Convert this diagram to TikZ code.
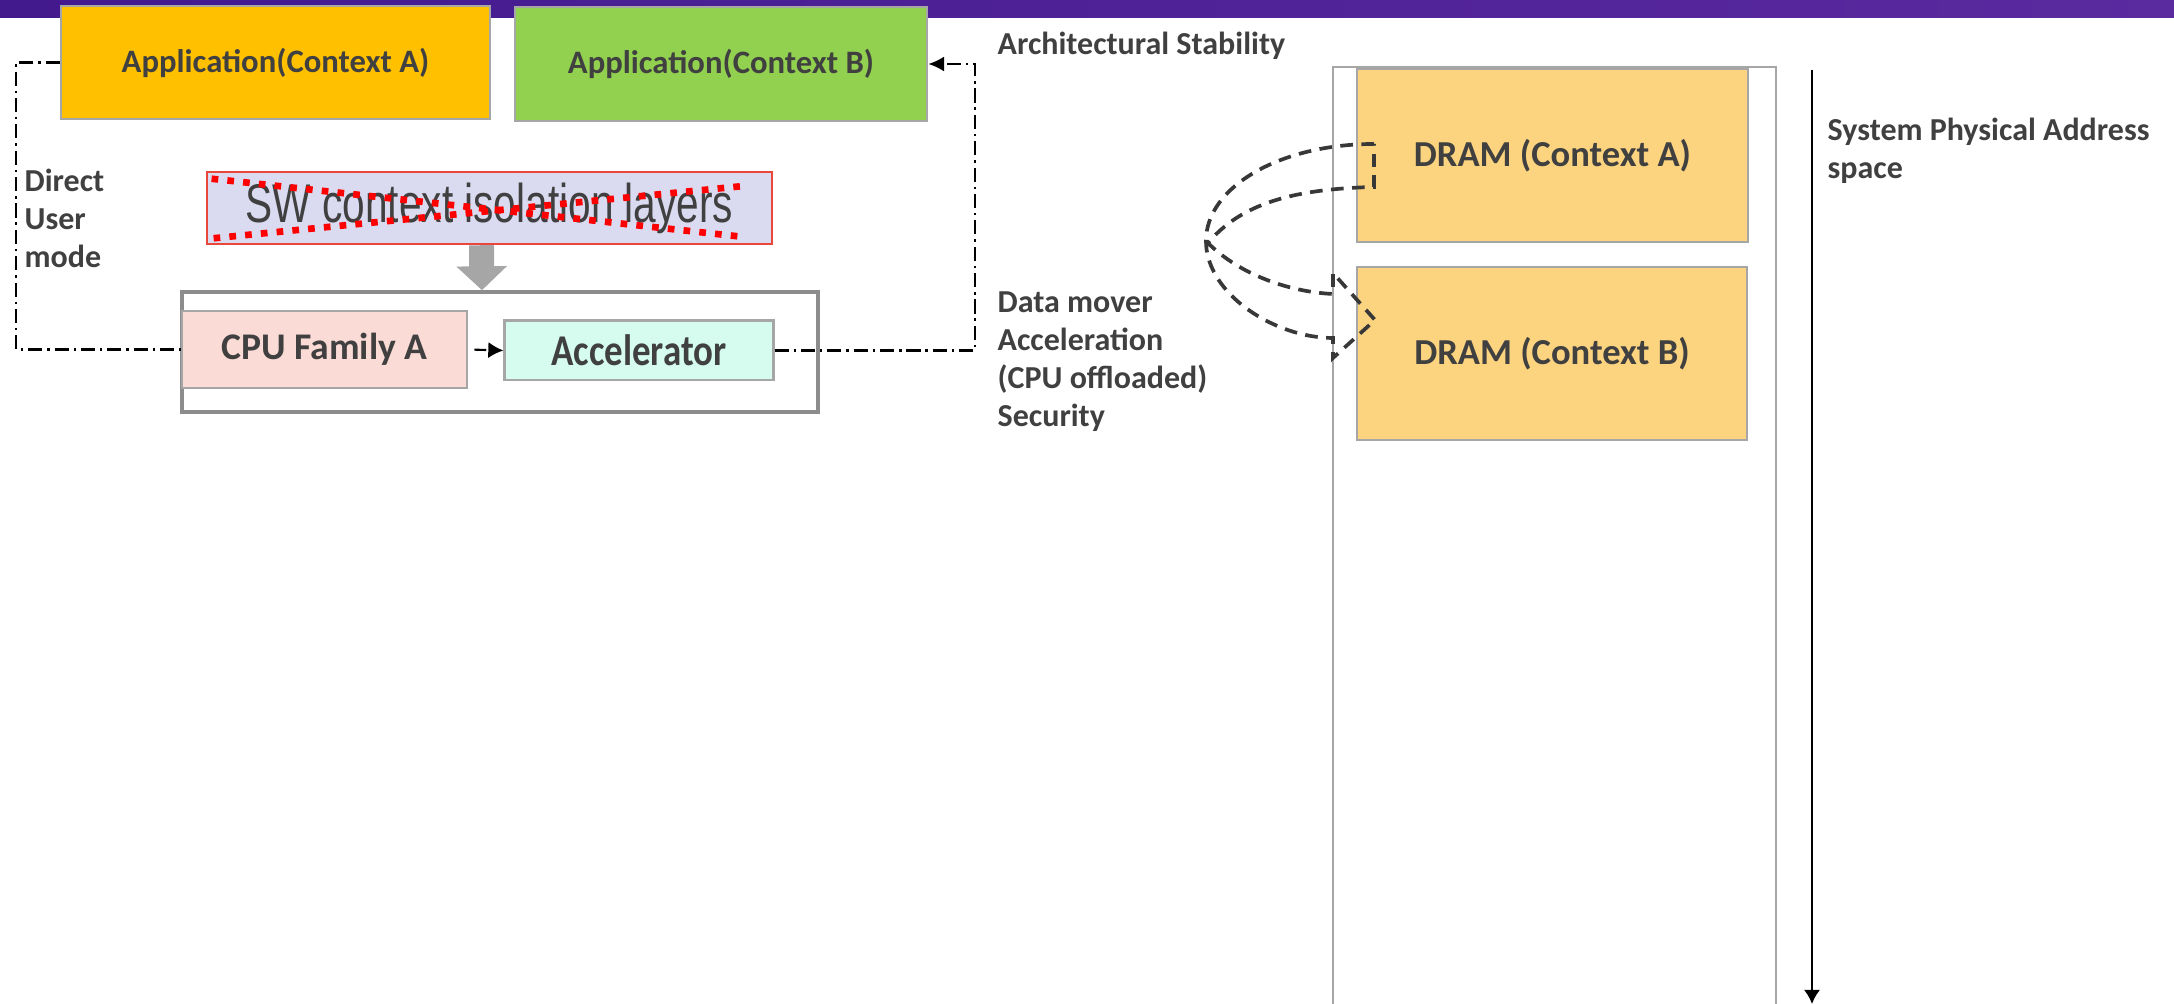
\documentclass[tikz,border=0pt]{standalone}
\usepackage{fontspec}
\usepackage{graphicx}
\setmainfont{Carlito}
\newfontfamily\swfont{Liberation Sans}
\usetikzlibrary{arrows.meta,calc}

\definecolor{txt}{HTML}{404040}
\definecolor{boxgray}{HTML}{A6A6A6}
\definecolor{hwgray}{HTML}{8C8C8C}
\definecolor{appAfill}{HTML}{FFC000}
\definecolor{appBfill}{HTML}{92D050}
\definecolor{swfill}{HTML}{DADAF0}
\definecolor{swline}{HTML}{E8473A}
\definecolor{cpufill}{HTML}{FADBD5}
\definecolor{accfill}{HTML}{D5FCEF}
\definecolor{dramfill}{HTML}{FCD47F}
\definecolor{bandL}{HTML}{43198E}
\definecolor{bandM}{HTML}{7A3FCA}
\definecolor{bandR}{HTML}{5A2A9F}
\definecolor{loopgray}{HTML}{383838}

\begin{document}
\begin{tikzpicture}[x=0.01cm,y=-0.01cm,
  box/.style={draw=boxgray, line width=0.7pt, inner sep=0pt, text=txt},
  lbl/.style={inner sep=0pt, anchor=west, align=left, text=txt,
    font=\bfseries\fontsize{9.1}{10.8}\selectfont},
  dashdot/.style={line width=0.6pt, dash pattern=on 4pt off 1.4pt on 0.7pt off 1.4pt},
  reddots/.style={draw=red, line width=1.9pt, dash pattern=on 1.9pt off 2.6pt},
  loopline/.style={draw=loopgray, line width=1.05pt, dash pattern=on 3.6pt off 2.4pt, line join=miter},
]
\useasboundingbox (0,0) rectangle (2174,1004);
\fill[white] (0,0) rectangle (2174,1004);

% title band
\shade[left color=bandL, middle color=bandM, right color=bandR] (0,0) rectangle (2174,18);

% applications
\node[box, fill=appAfill, minimum width=4.29cm, minimum height=1.13cm,
  font=\bfseries\fontsize{9.3}{11}\selectfont] (appA) at (275.5,62.5) {Application(Context A)};
\node[box, fill=appBfill, minimum width=4.12cm, minimum height=1.14cm,
  font=\bfseries\fontsize{9.3}{11}\selectfont] (appB) at (721,64) {Application(Context B)};

% software isolation layer (crossed out)
\node[draw=swline, line width=0.7pt, fill=swfill, inner sep=0pt,
  minimum width=5.65cm, minimum height=0.72cm, text=txt,
  font=\swfont\fontsize{15.5}{17}\selectfont] (sw) at (489.5,208)
  {\scalebox{0.745}[1]{SW context isolation layers}};
\draw[reddots] ($(sw.north west)+(6,8)$) -- ($(sw.south east)+(-27,-8)$);
\draw[reddots] ($(sw.south west)+(8,-7)$) -- ($(sw.north east)+(-27,15)$);

% hardware block
\node[draw=hwgray, line width=1pt, minimum width=6.36cm, minimum height=1.2cm] (hw) at (500,352) {};
\node[box, fill=cpufill, minimum width=2.85cm, minimum height=0.77cm,
  font=\bfseries\fontsize{10.7}{12}\selectfont] (cpu) at (324.5,349.5) {CPU Family A};
\node[box, fill=accfill, line width=0.85pt, minimum width=2.68cm, minimum height=0.59cm,
  font=\bfseries\fontsize{12.5}{14}\selectfont] (acc) at (639,350.5) {\scalebox{0.84}[1]{Accelerator}};

\draw[draw=boxgray, line width=7.1pt, -{Triangle[length=6.8pt,width=14pt]}]
  ($(sw.south)+(-8,0)$) -- ($(hw.north)+(-18,0)$);

\draw[line width=0.6pt, dash pattern=on 0pt off 1.7pt on 3.4pt off 10pt,
  -{Latex[length=4.3pt,width=4.6pt]}] (cpu.east) -- (acc.west);

% user-mode paths
\coordinate (ltop) at (16,62.5);
\draw[dashdot] (appA.west) -- (ltop) |- (cpu.west);
\coordinate (rtop) at (975,64);
\draw[dashdot, -{Latex[length=4.5pt,width=4.3pt]}] (acc.east) -| (rtop) -- (appB.east);

% labels
\node[lbl] (arch) at (997,46) {Architectural Stability};
\node[lbl] (direct) at (24,218) {Direct\\User\\mode};
\node[lbl] (mover) at (997,362) {Data mover\\Acceleration\\(CPU offloaded)\\Security};
\node[lbl] (spa) at (1827,151) {System Physical Address\\space};

% physical address space
\draw[boxgray, line width=0.6pt] (1333,1010) -- (1333,67) -- (1776,67) -- (1776,1010);
\node[box, fill=dramfill, minimum width=3.91cm, minimum height=1.73cm,
  font=\bfseries\fontsize{10.4}{12}\selectfont] (dramA) at (1552.5,155.5) {DRAM (Context A)};
\node[box, fill=dramfill, minimum width=3.90cm, minimum height=1.73cm,
  font=\bfseries\fontsize{10.4}{12}\selectfont] (dramB) at (1552,353.5) {DRAM (Context B)};

\coordinate (spTop) at (1812,70);
\coordinate (spEnd) at (1812,1004);
\draw[line width=0.55pt, -{Latex[length=4pt,width=4.6pt]}] (spTop) -- (spEnd);

% data mover loop from context A to context B
\draw[loopline] (1374,144) .. controls (1280,144) and (1206,187) .. (1206,241)
  .. controls (1206,294) and (1275,338) .. (1333,338)
  -- (1333,358) -- (1375,320) -- (1333,273) -- (1333,294)
  .. controls (1290,292) and (1240,275) .. (1208,243)
  .. controls (1240,205) and (1290,189) .. (1374,187) -- cycle;
\end{tikzpicture}
\end{document}
